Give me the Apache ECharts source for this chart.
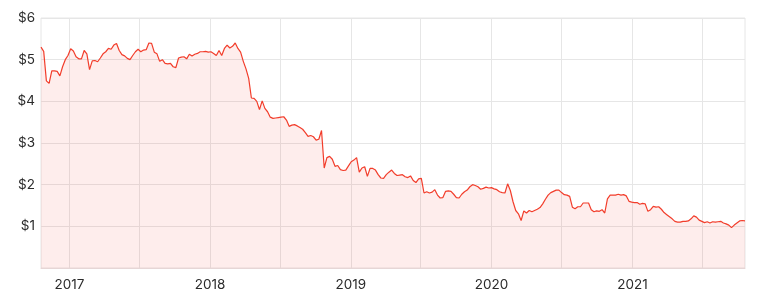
<!DOCTYPE html>
<html>
<head>
<meta charset="utf-8">
<script src="https://cdn.jsdelivr.net/npm/echarts@6/dist/echarts.min.js"></script>
<style>
html,body{margin:0;padding:0;background:#fff;}
#chart{width:759px;height:304px;}
</style>
</head>
<body>
<div id="chart"></div>
<script>
// Weekly closing prices, first week starting 2016-10-19
const startDate = [2016, 9, 19];
const stepDays = 7;
const prices = [
5.30,5.20,4.49,4.43,4.73,4.73,4.72,4.61,4.83,5.00,
5.10,5.26,5.21,5.07,5.02,5.02,5.22,5.14,4.76,4.97,
4.98,4.95,5.04,5.14,5.19,5.27,5.25,5.35,5.39,5.22,
5.12,5.09,5.03,5.00,5.10,5.19,5.25,5.19,5.23,5.24,
5.40,5.39,5.18,5.14,4.96,5.00,4.91,4.90,4.91,4.83,
4.81,5.04,5.06,5.07,5.02,5.13,5.09,5.13,5.15,5.19,
5.19,5.20,5.18,5.19,5.15,5.10,5.22,5.10,5.27,5.35,
5.28,5.32,5.40,5.27,5.18,4.96,4.78,4.55,4.08,4.07,
4.00,3.80,4.01,3.83,3.75,3.62,3.59,3.60,3.61,3.62,
3.63,3.55,3.40,3.43,3.44,3.41,3.37,3.33,3.25,3.16,
3.18,3.15,3.07,3.09,3.30,2.40,2.65,2.68,2.61,2.44,
2.46,2.36,2.34,2.35,2.45,2.55,2.59,2.65,2.30,2.40,
2.43,2.20,2.39,2.39,2.35,2.24,2.16,2.15,2.24,2.30,
2.35,2.27,2.22,2.23,2.24,2.19,2.17,2.21,2.10,2.05,
2.14,2.15,1.80,1.83,1.80,1.82,1.88,1.75,1.68,1.69,
1.84,1.85,1.84,1.77,1.69,1.68,1.77,1.83,1.87,1.95,
2.00,1.98,1.95,1.89,1.91,1.94,1.92,1.93,1.90,1.88,
1.83,1.81,1.80,2.02,1.86,1.59,1.38,1.30,1.14,1.37,
1.32,1.38,1.35,1.38,1.41,1.45,1.54,1.65,1.75,1.81,
1.84,1.87,1.87,1.81,1.76,1.75,1.72,1.46,1.42,1.47,
1.47,1.56,1.56,1.56,1.40,1.35,1.37,1.36,1.40,1.32,
1.66,1.75,1.75,1.75,1.77,1.75,1.76,1.73,1.60,1.58,
1.57,1.57,1.53,1.55,1.54,1.36,1.40,1.48,1.46,1.47,
1.41,1.33,1.28,1.23,1.18,1.12,1.10,1.10,1.12,1.12,
1.13,1.18,1.25,1.22,1.15,1.12,1.09,1.11,1.08,1.11,
1.10,1.11,1.12,1.08,1.06,1.03,0.97,1.03,1.08,1.13,
1.14,1.13
];
const yearLabels = [2017, 2018, 2019, 2020, 2021];
const yTicks = [0, 1, 2, 3, 4, 5, 6];

const dates = prices.map((_, i) => new Date(startDate[0], startDate[1], startDate[2] + i * stepDays).getTime());
const data = prices.map((v, i) => [dates[i], v]);
const yearStarts = yearLabels.map(y => new Date(y, 0, 1).getTime());
const halfYears = [];
yearLabels.forEach(y => { halfYears.push(new Date(y, 0, 1).getTime()); halfYears.push(new Date(y, 6, 1).getTime()); });

const chart = echarts.init(document.getElementById('chart'), null, {renderer: 'canvas'});
chart.setOption({
  animation: false,
  backgroundColor: '#ffffff',
  grid: {left: 41, right: 14, top: 18, bottom: 36, show: true, borderColor: '#e6e6e6', borderWidth: 1, backgroundColor: 'transparent', containLabel: false},
  xAxis: {
    type: 'value',
    min: dates[0],
    max: dates[dates.length - 1],
    axisLine: {show: true, lineStyle: {color: '#e6d6d6', width: 1}},
    axisTick: {show: false, customValues: halfYears},
    splitLine: {show: true, lineStyle: {color: '#e6e6e6', width: 1}},
    axisLabel: {
      customValues: yearStarts,
      formatter: v => String(new Date(v).getFullYear()),
      color: '#2b2b2b',
      fontFamily: 'Inter',
      fontSize: 13.5,
      margin: 10
    }
  },
  yAxis: {
    type: 'value',
    min: yTicks[0],
    max: yTicks[yTicks.length - 1],
    interval: 1,
    axisLine: {show: false},
    axisTick: {show: false},
    splitLine: {show: true, lineStyle: {color: '#e6e6e6', width: 1}},
    axisLabel: {
      formatter: v => v === 0 ? '' : '$' + v,
      color: '#2b2b2b',
      fontFamily: 'Inter',
      fontSize: 13.5,
      margin: 6
    }
  },
  series: [{
    type: 'line',
    data: data,
    showSymbol: false,
    symbol: 'none',
    lineStyle: {color: '#f23d2b', width: 1.2},
    areaStyle: {color: 'rgba(240, 60, 46, 0.13)'}
  }]
});
</script>
</body>
</html>
